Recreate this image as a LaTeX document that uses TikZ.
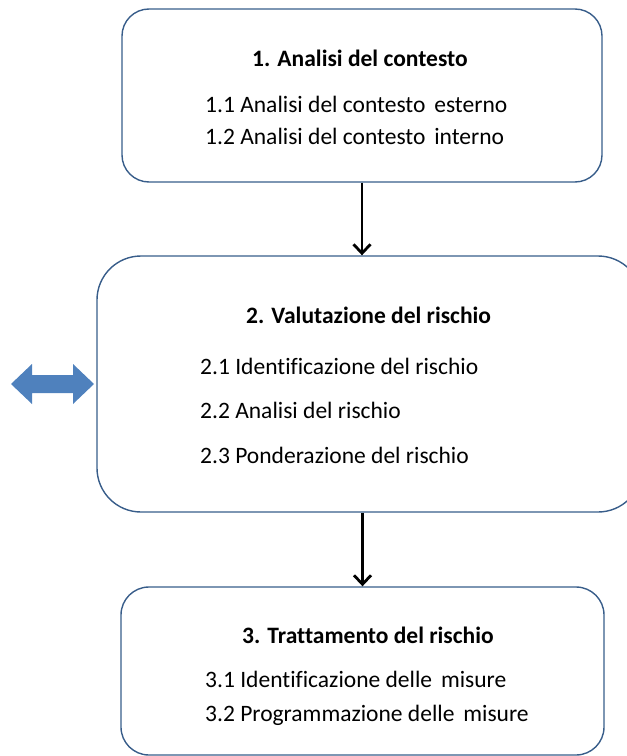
\documentclass[tikz,border=0pt]{standalone}
\usepackage{fontspec}
\setmainfont[Ligatures=NoCommon]{Carlito}
\usetikzlibrary{arrows.meta}
\definecolor{boxline}{RGB}{56,93,138}
\definecolor{dblblue}{RGB}{79,129,189}
\tikzset{
  box/.style={draw=boxline, line width=1.4bp, rectangle, inner sep=0pt},
  ttl/.style={anchor=base west, inner sep=0pt, font=\fontsize{23.6}{28}\selectfont\bfseries},
  itm/.style={anchor=base west, inner sep=0pt, font=\fontsize{23.6}{28}\selectfont},
  flow/.style={line width=2.8bp, -{Straight Barb[length=9bp,width=17bp,line width=2.8bp]}}
}
\begin{document}
\begin{tikzpicture}[x=1bp,y=-1bp]
\useasboundingbox (0,0) rectangle (627,756);
\clip (0,0) rectangle (627,756);
% boxes
\node[box, minimum width=480bp, minimum height=173bp, rounded corners=27bp] (b1) at (362,95.5) {};
\node[box, minimum width=545bp, minimum height=256bp, rounded corners=44bp] (b2) at (369.5,384) {};
\node[box, minimum width=483bp, minimum height=168bp, rounded corners=28bp] (b3) at (362.5,671) {};
% texts box 1
\node[ttl] (t1) at (252,67) {1. Analisi del contesto};
\node[itm] (t11) at (205,112) {1.1 Analisi del contesto\hspace{0.15em} esterno};
\node[itm] (t12) at (205,144) {1.2 Analisi del contesto\hspace{0.15em} interno};
% texts box 2
\node[ttl] (t2) at (246,323) {2. Valutazione del rischio};
\node[itm] (t21) at (200,374) {2.1 Identificazione del rischio};
\node[itm] (t22) at (200,418) {2.2 Analisi del rischio};
\node[itm] (t23) at (200,463) {2.3 Ponderazione del rischio};
% texts box 3
\node[ttl] (t3) at (242,643) {3. Trattamento del rischio};
\node[itm] (t31) at (205,687) {3.1 Identificazione delle\hspace{0.15em} misure};
\node[itm] (t32) at (205,721) {3.2 Programmazione delle\hspace{0.15em} misure};
% connectors
\draw[flow] (b1.south) -- (b1.south |- b2.north);
\draw[flow] (b3.north |- b2.south) -- (b3.north);
% double arrow
\fill[dblblue] (11,384) -- (32,364) -- (32,375) -- (73,375) -- (73,364) -- (94,384)
  -- (73,404) -- (73,393) -- (32,393) -- (32,404) -- cycle;
\end{tikzpicture}
\end{document}
